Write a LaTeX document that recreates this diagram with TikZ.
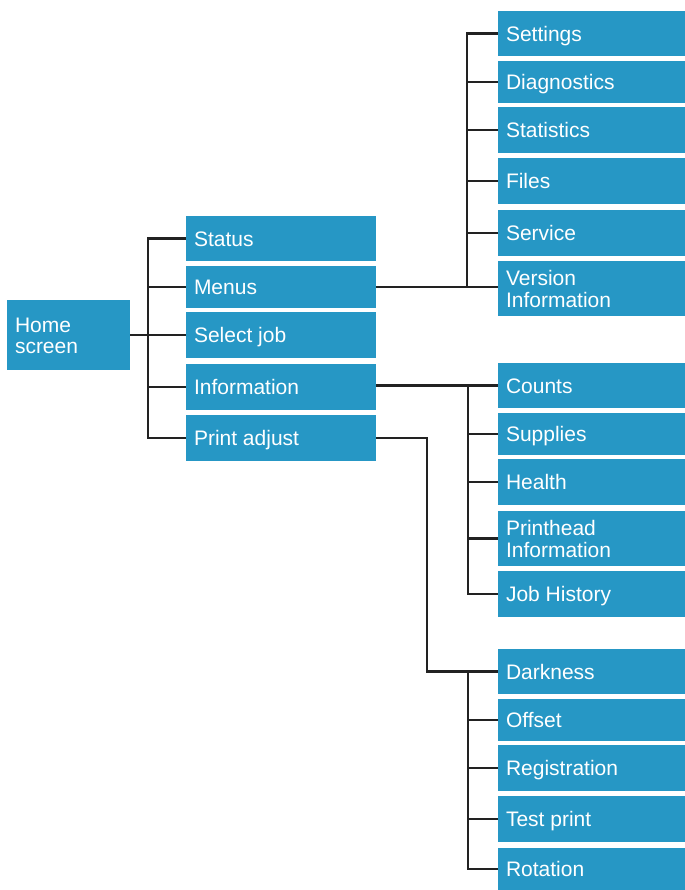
\documentclass[tikz,border=0pt]{standalone}
\usepackage{fontspec}
\setmainfont{Liberation Sans}
\definecolor{boxblue}{RGB}{38,151,197}
\definecolor{lineblk}{RGB}{34,34,34}
\tikzset{
  box/.style={rectangle, fill=boxblue, draw=none, inner sep=0pt},
  lbl/.style={inner sep=0pt, text=white, font=\fontsize{21bp}{21.3bp}\selectfont},
  conn/.style={draw=lineblk, line width=2.6bp},
}
\newcommand\tbox[5]{\node[box, minimum width={(#4-#2)*1bp}, minimum height={(#5-#3)*1bp}] (#1) at ({(#2+#4)/2},{(#3+#5)/2}) {};}
\newcommand\tlab[2]{\node[lbl, anchor=base west] (#1-t) at ([shift={(8,7.5)}]#1.west) {#2};}
\newcommand\tlabb[3]{\node[lbl, anchor=base west] (#1-t) at ([shift={(8,-2.8)}]#1.west) {\vtop{\baselineskip=21.3bp\hbox{#2}\hbox{#3}}};}
\begin{document}
\begin{tikzpicture}[x=1bp, y=-1bp]
\useasboundingbox (0,0) rectangle (685,890);
% junction coordinates
\coordinate (j1) at (148,335);
\coordinate (j2) at (467,287.5);
\coordinate (j3) at (468,450);
\coordinate (j4) at (427,550);
\coordinate (j5) at (468,750);
% level 0
\tbox{home}{7}{300}{130}{370}\tlabb{home}{Home}{screen}
% level 1
\tbox{status}{186}{216}{376}{261}\tlab{status}{Status}
\tbox{menus}{186}{266}{376}{308}\tlab{menus}{Menus}
\tbox{select}{186}{312}{376}{358}\tlab{select}{Select job}
\tbox{info}{186}{364}{376}{410}\tlab{info}{Information}
\tbox{print}{186}{415}{376}{461}\tlab{print}{Print adjust}
% menus children
\tbox{settings}{498}{11}{685}{56}\tlab{settings}{Settings}
\tbox{diag}{498}{61}{685}{103}\tlab{diag}{Diagnostics}
\tbox{stats}{498}{107}{685}{153}\tlab{stats}{Statistics}
\tbox{files}{498}{158}{685}{204}\tlab{files}{Files}
\tbox{service}{498}{210}{685}{256}\tlab{service}{Service}
\tbox{version}{498}{261}{685}{316}\tlabb{version}{Version}{Information}
% information children
\tbox{counts}{498}{363}{685}{408}\tlab{counts}{Counts}
\tbox{supplies}{498}{413}{685}{455}\tlab{supplies}{Supplies}
\tbox{health}{498}{459}{685}{505}\tlab{health}{Health}
\tbox{phead}{498}{511}{685}{566}\tlabb{phead}{Printhead}{Information}
\tbox{jobhist}{498}{571}{685}{617}\tlab{jobhist}{Job History}
% print adjust children
\tbox{dark}{498}{649}{685}{694}\tlab{dark}{Darkness}
\tbox{offset}{498}{699}{685}{741}\tlab{offset}{Offset}
\tbox{regis}{498}{745}{685}{791}\tlab{regis}{Registration}
\tbox{test}{498}{796}{685}{842}\tlab{test}{Test print}
\tbox{rot}{498}{848}{685}{890}\tlab{rot}{Rotation}
% connectors: home
\draw[conn] (home.east) -- (select.west);
\draw[conn] (status.west) -| (j1) |- (print.west);
\draw[conn] (menus.west) -- (menus.west -| j1);
\draw[conn] (info.west) -- (info.west -| j1);
% menus
\draw[conn] (menus.east) -- (menus.east -| version.west);
\draw[conn] (settings.west) -| (j2);
\draw[conn] (diag.west) -- (diag.west -| j2);
\draw[conn] (stats.west) -- (stats.west -| j2);
\draw[conn] (files.west) -- (files.west -| j2);
\draw[conn] (service.west) -- (service.west -| j2);
% information
\draw[conn] (counts.west -| info.east) -- (counts.west);
\draw[conn] (counts.west -| j3) |- (jobhist.west);
\draw[conn] (supplies.west) -- (supplies.west -| j3);
\draw[conn] (health.west) -- (health.west -| j3);
\draw[conn] (phead.west) -- (phead.west -| j3);
% print adjust
\draw[conn] (print.east) -| (j4) |- (dark.west);
\draw[conn] (dark.west -| j5) |- (rot.west);
\draw[conn] (offset.west) -- (offset.west -| j5);
\draw[conn] (regis.west) -- (regis.west -| j5);
\draw[conn] (test.west) -- (test.west -| j5);
\end{tikzpicture}
\end{document}
